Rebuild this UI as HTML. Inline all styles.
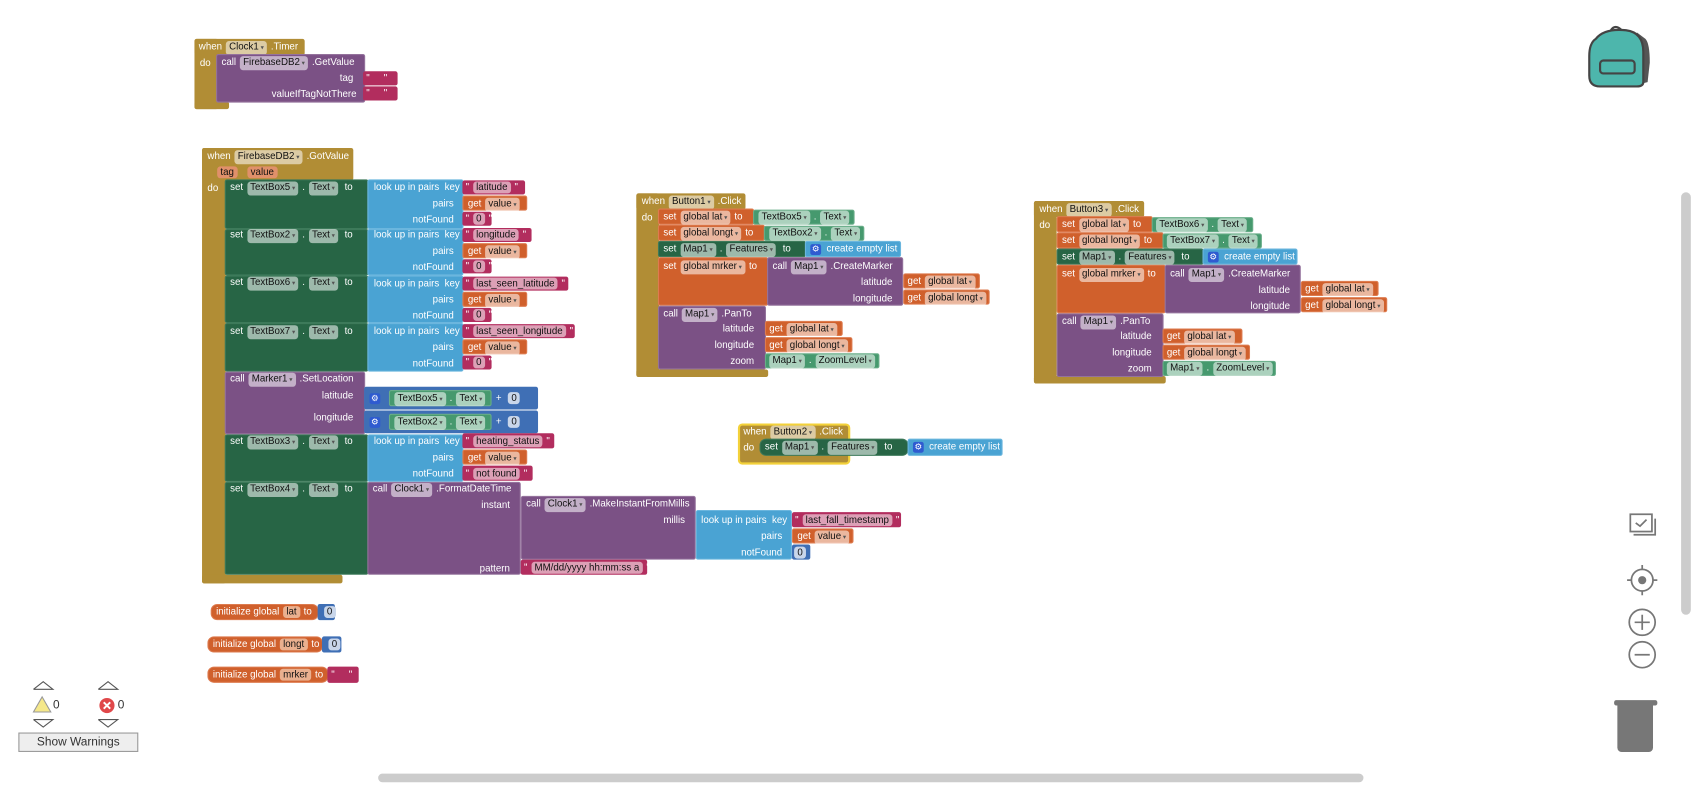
<!DOCTYPE html>
<html><head><meta charset="utf-8"><style>
*{margin:0;padding:0;box-sizing:border-box}
body{width:1694px;height:785px;overflow:hidden;background:#fff;font-family:"Liberation Sans",sans-serif}
#s{position:absolute;left:0;top:0;width:1568px;height:727px;transform:scale(1.0804);transform-origin:0 0}
.r{position:absolute;border-radius:2px}
.g{background:#b18d35}.dg{background:#276545;border:1px solid #3d7a5a}.lb{background:#4aa3d3;border:1px solid #6bb6de}
.pk{background:#b22d5e}.or{background:#d0602c;border:1px solid #dd7b4f}.pu{background:#7b5185;border:1px solid #94729c}
.cg{background:#46996e;border:1px solid #68ad88}.mb{background:#3f6fb5}
.t{position:absolute;font-size:9px;line-height:13px;color:#fff;white-space:nowrap}
.ra{text-align:right}
.p{display:inline-block;background:rgba(255,255,255,.55);color:#111;border-radius:3px;padding:0 3px;line-height:11px;margin:0 1px}
.p.d:after{content:" ▾";font-size:6px;color:#555}
.gear{display:inline-block;width:10px;height:10px;background:#2f5bd0;border-radius:2px;color:#fff;font-size:8px;line-height:10px;text-align:center;vertical-align:middle}
</style></head><body><div id="s">

<!-- Clock1.Timer -->
<div class="r g" style="left:180px;top:36px;width:102px;height:15px"></div>
<div class="r g" style="left:180px;top:36px;width:22px;height:65px"></div>
<div class="r g" style="left:180px;top:94px;width:32px;height:7px"></div>
<div class="t" style="left:184px;top:37px">when <span class="p d">Clock1</span> .Timer</div>
<div class="t" style="left:185px;top:52px">do</div>
<div class="r pu" style="left:200px;top:50px;width:138px;height:45px"></div>
<div class="t" style="left:205px;top:51px">call <span class="p d">FirebaseDB2</span> .GetValue</div>
<div class="t ra" style="left:250px;width:77px;top:66px">tag</div>
<div class="t ra" style="left:220px;width:110px;top:81px">valueIfTagNotThere</div>
<div class="r pk" style="left:336px;top:66px;width:32px;height:13px"></div>
<div class="t" style="left:339px;top:66px">" <span class="p"> </span> "</div>
<div class="r pk" style="left:336px;top:80px;width:32px;height:13px"></div>
<div class="t" style="left:339px;top:80px">" <span class="p"> </span> "</div>

<!-- FirebaseDB2.GotValue -->
<div class="r g" style="left:187px;top:137px;width:140px;height:30px"></div>
<div class="r g" style="left:187px;top:137px;width:22px;height:403px"></div>
<div class="r g" style="left:187px;top:532px;width:130px;height:8px"></div>
<div class="t" style="left:192px;top:138px">when <span class="p d">FirebaseDB2</span> .GotValue</div>
<div class="t" style="left:200px;top:153px"><span class="p" style="background:#e0906a">tag</span> &nbsp; <span class="p" style="background:#e0906a">value</span></div>
<div class="t" style="left:192px;top:168px">do</div>

<div class="r dg" style="left:208px;top:166px;width:133px;height:46px"></div>
<div class="r dg" style="left:208px;top:212px;width:133px;height:43px"></div>
<div class="r dg" style="left:208px;top:255px;width:133px;height:44px"></div>
<div class="r dg" style="left:208px;top:299px;width:133px;height:45px"></div>
<div class="t" style="left:213px;top:167px">set <span class="p d">TextBox5</span> . <span class="p d">Text</span> &nbsp;to</div>
<div class="t" style="left:213px;top:211px">set <span class="p d">TextBox2</span> . <span class="p d">Text</span> &nbsp;to</div>
<div class="t" style="left:213px;top:255px">set <span class="p d">TextBox6</span> . <span class="p d">Text</span> &nbsp;to</div>
<div class="t" style="left:213px;top:300px">set <span class="p d">TextBox7</span> . <span class="p d">Text</span> &nbsp;to</div>

<div class="r lb" style="left:340px;top:166px;width:89px;height:46px"></div>
<div class="r lb" style="left:340px;top:212px;width:89px;height:43px"></div>
<div class="r lb" style="left:340px;top:255px;width:89px;height:44px"></div>
<div class="r lb" style="left:340px;top:299px;width:89px;height:45px"></div>

<div class="t" style="left:346px;top:167px">look up in pairs &nbsp;key</div>
<div class="t ra" style="left:340px;width:80px;top:182px">pairs</div>
<div class="t ra" style="left:340px;width:80px;top:197px">notFound</div>
<div class="r pk" style="left:428px;top:167px;width:58px;height:13px"></div><div class="t" style="left:431px;top:167px">" <span class="p">latitude</span> "</div>
<div class="r or" style="left:428px;top:181px;width:60px;height:14px"></div><div class="t" style="left:433px;top:182px">get <span class="p d">value</span></div>
<div class="r pk" style="left:428px;top:196px;width:27px;height:13px"></div><div class="t" style="left:431px;top:196px">" <span class="p">0</span> "</div>
<div class="t" style="left:346px;top:211px">look up in pairs &nbsp;key</div>
<div class="t ra" style="left:340px;width:80px;top:226px">pairs</div>
<div class="t ra" style="left:340px;width:80px;top:241px">notFound</div>
<div class="r pk" style="left:428px;top:211px;width:64px;height:13px"></div><div class="t" style="left:431px;top:211px">" <span class="p">longitude</span> "</div>
<div class="r or" style="left:428px;top:225px;width:60px;height:14px"></div><div class="t" style="left:433px;top:226px">get <span class="p d">value</span></div>
<div class="r pk" style="left:428px;top:240px;width:27px;height:13px"></div><div class="t" style="left:431px;top:240px">" <span class="p">0</span> "</div>
<div class="t" style="left:346px;top:256px">look up in pairs &nbsp;key</div>
<div class="t ra" style="left:340px;width:80px;top:271px">pairs</div>
<div class="t ra" style="left:340px;width:80px;top:286px">notFound</div>
<div class="r pk" style="left:428px;top:256px;width:98px;height:13px"></div><div class="t" style="left:431px;top:256px">" <span class="p">last_seen_latitude</span> "</div>
<div class="r or" style="left:428px;top:270px;width:60px;height:14px"></div><div class="t" style="left:433px;top:271px">get <span class="p d">value</span></div>
<div class="r pk" style="left:428px;top:285px;width:27px;height:13px"></div><div class="t" style="left:431px;top:285px">" <span class="p">0</span> "</div>
<div class="t" style="left:346px;top:300px">look up in pairs &nbsp;key</div>
<div class="t ra" style="left:340px;width:80px;top:315px">pairs</div>
<div class="t ra" style="left:340px;width:80px;top:330px">notFound</div>
<div class="r pk" style="left:428px;top:300px;width:104px;height:13px"></div><div class="t" style="left:431px;top:300px">" <span class="p">last_seen_longitude</span> "</div>
<div class="r or" style="left:428px;top:314px;width:60px;height:14px"></div><div class="t" style="left:433px;top:315px">get <span class="p d">value</span></div>
<div class="r pk" style="left:428px;top:329px;width:27px;height:13px"></div><div class="t" style="left:431px;top:329px">" <span class="p">0</span> "</div>

<!-- Marker1.SetLocation -->
<div class="r pu" style="left:208px;top:344px;width:130px;height:58px"></div>
<div class="t" style="left:213px;top:344px">call <span class="p d">Marker1</span> .SetLocation</div>
<div class="t ra" style="left:250px;width:77px;top:360px">latitude</div>
<div class="t ra" style="left:250px;width:77px;top:380px">longitude</div>
<div class="r mb" style="left:337px;top:358px;width:161px;height:21px"></div>
<div class="r mb" style="left:337px;top:380px;width:161px;height:21px"></div>
<div class="t" style="left:342px;top:362px"><span class="gear">⚙</span></div>
<div class="t" style="left:342px;top:384px"><span class="gear">⚙</span></div>
<div class="r cg" style="left:360px;top:361px;width:95px;height:15px"></div>
<div class="r cg" style="left:360px;top:383px;width:95px;height:15px"></div>
<div class="t" style="left:364px;top:362px"><span class="p d">TextBox5</span> . <span class="p d">Text</span></div>
<div class="t" style="left:364px;top:384px"><span class="p d">TextBox2</span> . <span class="p d">Text</span></div>
<div class="t" style="left:459px;top:362px">+ &nbsp;<span class="p" style="background:#c9d6ea">0</span></div>
<div class="t" style="left:459px;top:384px">+ &nbsp;<span class="p" style="background:#c9d6ea">0</span></div>

<!-- TextBox3 -->
<div class="r dg" style="left:208px;top:402px;width:133px;height:44px"></div>
<div class="r lb" style="left:340px;top:402px;width:89px;height:44px"></div>
<div class="t" style="left:213px;top:402px">set <span class="p d">TextBox3</span> . <span class="p d">Text</span> &nbsp;to</div>
<div class="t" style="left:346px;top:402px">look up in pairs &nbsp;key</div>
<div class="t ra" style="left:340px;width:80px;top:417px">pairs</div>
<div class="t ra" style="left:340px;width:80px;top:432px">notFound</div>
<div class="r pk" style="left:428px;top:401px;width:85px;height:14px"></div><div class="t" style="left:431px;top:402px">" <span class="p">heating_status</span> "</div>
<div class="r or" style="left:428px;top:416px;width:60px;height:14px"></div><div class="t" style="left:433px;top:417px">get <span class="p d">value</span></div>
<div class="r pk" style="left:428px;top:431px;width:65px;height:14px"></div><div class="t" style="left:431px;top:432px">" <span class="p">not found</span> "</div>

<!-- TextBox4 -->
<div class="r dg" style="left:208px;top:446px;width:133px;height:86px"></div>
<div class="t" style="left:213px;top:446px">set <span class="p d">TextBox4</span> . <span class="p d">Text</span> &nbsp;to</div>
<div class="r pu" style="left:340px;top:446px;width:142px;height:86px"></div>
<div class="t" style="left:345px;top:446px">call <span class="p d">Clock1</span> .FormatDateTime</div>
<div class="t ra" style="left:400px;width:72px;top:461px">instant</div>
<div class="t ra" style="left:400px;width:72px;top:520px">pattern</div>
<div class="r pu" style="left:482px;top:459px;width:162px;height:59px"></div>
<div class="t" style="left:487px;top:460px">call <span class="p d">Clock1</span> .MakeInstantFromMillis</div>
<div class="t ra" style="left:560px;width:74px;top:475px">millis</div>
<div class="r lb" style="left:644px;top:472px;width:89px;height:46px"></div>
<div class="t" style="left:649px;top:475px">look up in pairs &nbsp;key</div>
<div class="t ra" style="left:644px;width:80px;top:490px">pairs</div>
<div class="t ra" style="left:644px;width:80px;top:505px">notFound</div>
<div class="r pk" style="left:733px;top:474px;width:101px;height:14px"></div><div class="t" style="left:736px;top:475px">" <span class="p">last_fall_timestamp</span> "</div>
<div class="r or" style="left:733px;top:489px;width:57px;height:14px"></div><div class="t" style="left:738px;top:490px">get <span class="p d">value</span></div>
<div class="r mb" style="left:733px;top:504px;width:17px;height:14px"></div><div class="t" style="left:734px;top:505px"><span class="p" style="background:#c9d6ea">0</span></div>
<div class="r pk" style="left:482px;top:518px;width:117px;height:14px"></div><div class="t" style="left:485px;top:519px">" <span class="p">MM/dd/yyyy hh:mm:ss a</span> "</div>

<!-- globals -->
<div class="r or" style="left:195px;top:559px;width:100px;height:15px;border-radius:6px"></div>
<div class="r mb" style="left:294px;top:559px;width:16px;height:15px"></div>
<div class="t" style="left:200px;top:560px">initialize global <span class="p" style="background:#eab08f">lat</span> to &nbsp;&nbsp;&nbsp;<span class="p" style="background:#c9d6ea">0</span></div>
<div class="r or" style="left:192px;top:589px;width:107px;height:15px;border-radius:6px"></div>
<div class="r mb" style="left:298px;top:589px;width:18px;height:15px"></div>
<div class="t" style="left:197px;top:590px">initialize global <span class="p" style="background:#eab08f">longt</span> to &nbsp;&nbsp;<span class="p" style="background:#c9d6ea">0</span></div>
<div class="r or" style="left:192px;top:617px;width:112px;height:15px;border-radius:6px"></div>
<div class="r pk" style="left:303px;top:617px;width:29px;height:15px"></div>
<div class="t" style="left:197px;top:618px">initialize global <span class="p" style="background:#eab08f">mrker</span> to &nbsp;&nbsp;" <span class="p"> </span> "</div>

<!-- Button1 -->
<div class="r g" style="left:589px;top:179px;width:101px;height:15px"></div>
<div class="r g" style="left:589px;top:179px;width:21px;height:170px"></div>
<div class="r g" style="left:589px;top:342px;width:122px;height:7px"></div>
<div class="t" style="left:594px;top:180px">when <span class="p d">Button1</span> .Click</div>
<div class="t" style="left:594px;top:195px">do</div>
<div class="r or" style="left:609px;top:193px;width:89px;height:15px"></div>
<div class="r cg" style="left:697px;top:194px;width:94px;height:14px"></div>
<div class="t" style="left:614px;top:194px">set <span class="p d">global lat</span> to</div>
<div class="t" style="left:701px;top:194px"><span class="p d">TextBox5</span> . <span class="p d">Text</span></div>
<div class="r or" style="left:609px;top:208px;width:99px;height:15px"></div>
<div class="r cg" style="left:707px;top:209px;width:93px;height:14px"></div>
<div class="t" style="left:614px;top:209px">set <span class="p d">global longt</span> to</div>
<div class="t" style="left:711px;top:209px"><span class="p d">TextBox2</span> . <span class="p d">Text</span></div>
<div class="r dg" style="left:609px;top:223px;width:137px;height:15px"></div>
<div class="r lb" style="left:745px;top:223px;width:89px;height:15px"></div>
<div class="t" style="left:614px;top:224px">set <span class="p d">Map1</span> . <span class="p d">Features</span> &nbsp;to</div>
<div class="t" style="left:750px;top:224px"><span class="gear">⚙</span> &nbsp;create empty list</div>
<div class="r or" style="left:609px;top:238px;width:102px;height:45px"></div>
<div class="t" style="left:614px;top:240px">set <span class="p d">global mrker</span> to</div>
<div class="r pu" style="left:710px;top:238px;width:126px;height:45px"></div>
<div class="t" style="left:715px;top:240px">call <span class="p d">Map1</span> .CreateMarker</div>
<div class="t ra" style="left:740px;width:86px;top:255px">latitude</div>
<div class="t ra" style="left:740px;width:86px;top:270px">longitude</div>
<div class="r or" style="left:836px;top:253px;width:71px;height:14px"></div><div class="t" style="left:840px;top:254px">get <span class="p d">global lat</span></div>
<div class="r or" style="left:836px;top:268px;width:80px;height:14px"></div><div class="t" style="left:840px;top:269px">get <span class="p d">global longt</span></div>
<div class="r pu" style="left:609px;top:283px;width:100px;height:59px"></div>
<div class="t" style="left:614px;top:284px">call <span class="p d">Map1</span> .PanTo</div>
<div class="t ra" style="left:630px;width:68px;top:298px">latitude</div>
<div class="t ra" style="left:630px;width:68px;top:313px">longitude</div>
<div class="t ra" style="left:630px;width:68px;top:328px">zoom</div>
<div class="r or" style="left:708px;top:297px;width:72px;height:14px"></div><div class="t" style="left:712px;top:298px">get <span class="p d">global lat</span></div>
<div class="r or" style="left:708px;top:312px;width:81px;height:14px"></div><div class="t" style="left:712px;top:313px">get <span class="p d">global longt</span></div>
<div class="r cg" style="left:708px;top:327px;width:106px;height:14px"></div><div class="t" style="left:711px;top:327px"><span class="p d">Map1</span> . <span class="p d">ZoomLevel</span></div>

<!-- Button2 -->
<div class="r g" style="left:683px;top:392px;width:104px;height:38px;border:2px solid #f3d13a;border-radius:4px"></div>
<div class="t" style="left:688px;top:393px">when <span class="p d">Button2</span> .Click</div>
<div class="t" style="left:688px;top:408px">do</div>
<div class="r dg" style="left:703px;top:406px;width:138px;height:16px;border-radius:6px"></div>
<div class="r lb" style="left:840px;top:406px;width:88px;height:16px"></div>
<div class="t" style="left:708px;top:407px">set <span class="p d">Map1</span> . <span class="p d">Features</span> &nbsp;to</div>
<div class="t" style="left:845px;top:407px"><span class="gear">⚙</span> &nbsp;create empty list</div>

<!-- Button3 -->
<div class="r g" style="left:957px;top:186px;width:102px;height:15px"></div>
<div class="r g" style="left:957px;top:186px;width:21px;height:169px"></div>
<div class="r g" style="left:957px;top:348px;width:122px;height:7px"></div>
<div class="t" style="left:962px;top:187px">when <span class="p d">Button3</span> .Click</div>
<div class="t" style="left:962px;top:202px">do</div>
<div class="r or" style="left:978px;top:200px;width:89px;height:15px"></div>
<div class="r cg" style="left:1066px;top:201px;width:94px;height:14px"></div>
<div class="t" style="left:983px;top:201px">set <span class="p d">global lat</span> to</div>
<div class="t" style="left:1069px;top:201px"><span class="p d">TextBox6</span> . <span class="p d">Text</span></div>
<div class="r or" style="left:978px;top:215px;width:99px;height:15px"></div>
<div class="r cg" style="left:1076px;top:216px;width:92px;height:14px"></div>
<div class="t" style="left:983px;top:216px">set <span class="p d">global longt</span> to</div>
<div class="t" style="left:1079px;top:216px"><span class="p d">TextBox7</span> . <span class="p d">Text</span></div>
<div class="r dg" style="left:978px;top:230px;width:136px;height:15px"></div>
<div class="r lb" style="left:1113px;top:230px;width:88px;height:15px"></div>
<div class="t" style="left:983px;top:231px">set <span class="p d">Map1</span> . <span class="p d">Features</span> &nbsp;to</div>
<div class="t" style="left:1118px;top:231px"><span class="gear">⚙</span> &nbsp;create empty list</div>
<div class="r or" style="left:978px;top:245px;width:101px;height:45px"></div>
<div class="t" style="left:983px;top:247px">set <span class="p d">global mrker</span> to</div>
<div class="r pu" style="left:1078px;top:245px;width:126px;height:45px"></div>
<div class="t" style="left:1083px;top:247px">call <span class="p d">Map1</span> .CreateMarker</div>
<div class="t ra" style="left:1110px;width:84px;top:262px">latitude</div>
<div class="t ra" style="left:1110px;width:84px;top:277px">longitude</div>
<div class="r or" style="left:1204px;top:260px;width:72px;height:14px"></div><div class="t" style="left:1208px;top:261px">get <span class="p d">global lat</span></div>
<div class="r or" style="left:1204px;top:275px;width:80px;height:14px"></div><div class="t" style="left:1208px;top:276px">get <span class="p d">global longt</span></div>
<div class="r pu" style="left:978px;top:290px;width:99px;height:59px"></div>
<div class="t" style="left:983px;top:291px">call <span class="p d">Map1</span> .PanTo</div>
<div class="t ra" style="left:1000px;width:66px;top:305px">latitude</div>
<div class="t ra" style="left:1000px;width:66px;top:320px">longitude</div>
<div class="t ra" style="left:1000px;width:66px;top:335px">zoom</div>
<div class="r or" style="left:1076px;top:304px;width:74px;height:14px"></div><div class="t" style="left:1080px;top:305px">get <span class="p d">global lat</span></div>
<div class="r or" style="left:1076px;top:319px;width:81px;height:14px"></div><div class="t" style="left:1080px;top:320px">get <span class="p d">global longt</span></div>
<div class="r cg" style="left:1076px;top:334px;width:105px;height:14px"></div><div class="t" style="left:1079px;top:334px"><span class="p d">Map1</span> . <span class="p d">ZoomLevel</span></div>

<!-- right toolbar -->
<svg style="position:absolute;left:1465px;top:18px" width="75" height="70">
 <path d="M50 12 L58 18 Q62 22 62 40 L60 58 L52 60 Z" fill="#555"/>
 <path d="M12 18 Q20 8 40 10 Q56 12 56 30 L56 58 Q56 62 50 62 L16 62 Q6 62 6 52 L6 34 Q6 22 12 18 Z" fill="#4db6ac" stroke="#444" stroke-width="2"/>
 <rect x="16" y="38" width="32" height="12" rx="3" fill="#4db6ac" stroke="#444" stroke-width="2"/>
 <path d="M26 10 Q30 4 36 10" fill="none" stroke="#444" stroke-width="2"/>
</svg>
<svg style="position:absolute;left:1500px;top:470px" width="45" height="150" fill="none" stroke="#777" stroke-width="1.6">
 <rect x="9" y="6" width="20" height="16" />
 <polyline points="14,14 18,17 24,11"/>
 <polyline points="12,25 32,25 32,10"/>
 <circle cx="20" cy="67" r="10"/><circle cx="20" cy="67" r="3" fill="#777"/>
 <line x1="20" y1="53" x2="20" y2="57"/><line x1="20" y1="77" x2="20" y2="81"/><line x1="6" y1="67" x2="10" y2="67"/><line x1="30" y1="67" x2="34" y2="67"/>
 <circle cx="20" cy="106" r="12"/><line x1="13" y1="106" x2="27" y2="106"/><line x1="20" y1="99" x2="20" y2="113"/>
 <circle cx="20" cy="136" r="12"/><line x1="13" y1="136" x2="27" y2="136"/>
</svg>
<div class="r" style="left:1494px;top:648px;width:40px;height:5px;background:#777;border-radius:2px"></div>
<div class="r" style="left:1497px;top:652px;width:33px;height:44px;background:#777;border-radius:0 0 4px 4px"></div>
<div class="r" style="left:1556px;top:178px;width:9px;height:391px;background:#ccc;border-radius:5px"></div>
<div class="r" style="left:350px;top:716px;width:912px;height:8px;background:#ccc;border-radius:4px"></div>

<!-- warnings -->
<svg style="position:absolute;left:20px;top:628px" width="110" height="50" fill="none" stroke="#555" stroke-width="1">
 <polyline points="11,10 20,3 29,10 11,10"/><polyline points="71,10 80,3 89,10 71,10"/>
 <polyline points="11,38 20,45 29,38 11,38"/><polyline points="71,38 80,45 89,38 71,38"/>
 <path d="M19 17 L27 31 L11 31 Z" fill="#f5e88a" stroke="#999"/>
 <circle cx="79" cy="25" r="7" fill="#e0484a" stroke="none"/>
 <path d="M76 22 L82 28 M82 22 L76 28" stroke="#fff" stroke-width="1.8"/>
</svg>
<div class="t" style="left:49px;top:647px;color:#333;font-size:11px">0</div>
<div class="t" style="left:109px;top:647px;color:#333;font-size:11px">0</div>
<div style="position:absolute;left:17px;top:678px;width:111px;height:18px;border:1px solid #999;background:#eee;font-size:11px;line-height:16px;text-align:center;color:#333">Show Warnings</div>

</div></body></html>
